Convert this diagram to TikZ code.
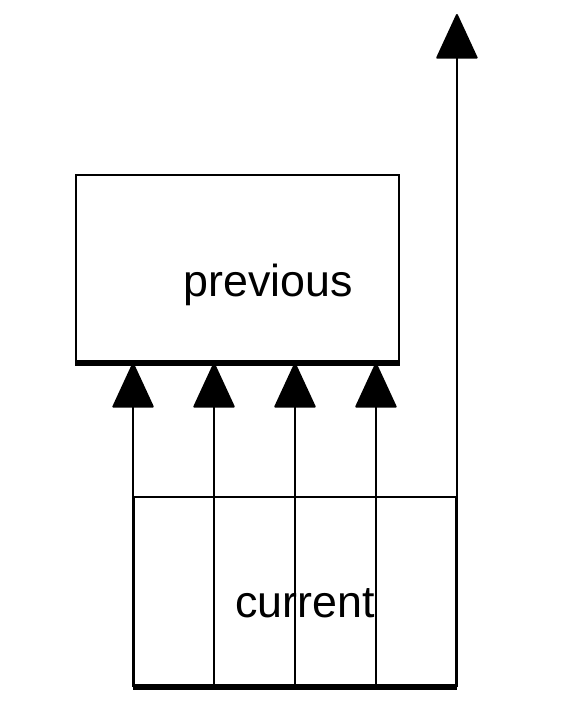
\documentclass[tikz,border=0pt]{standalone}
\usepackage{fontspec}
\setmainfont{Liberation Sans}
\usetikzlibrary{arrows.meta,calc}
\begin{document}
\begin{tikzpicture}[x=0.02cm,y=-0.02cm,
                    box/.style={draw,line width=1.1pt,minimum width=6.46cm,minimum height=3.74cm,inner sep=0},
                    base/.style={line width=3pt},
                    arr/.style={line width=1.1pt,-{Triangle[width=0.84cm,length=0.92cm,round]}},
                    word/.style={anchor=base west,inner sep=0,font=\fontsize{25.5}{30}\selectfont}]
                    \useasboundingbox (0,0) rectangle (566,718);

                    \node[box] (prev) at (237.5,268.5) {};
                    \node[box,minimum width=6.44cm,minimum height=3.78cm] (cur) at (295,591.5) {};
                    \draw[base] (prev.south west) -- (prev.south east);
                    \draw[base] (cur.south west) -- (cur.south east);

                    \foreach \i in {0,1,2,3}
                        \coordinate (c\i) at ($(cur.south west)!\i/4!(cur.south east)$);
                    \coordinate (top) at (455,14);

                    \foreach \i in {0,1,2,3}
                        \draw[arr] (c\i) -- (c\i |- prev.south);
                    \draw[arr] (cur.south east) -- (cur.south east |- top);

                    \node[word] (prevtext) at (183,296) {previous};
                    \node[word] (curtext) at (235,617) {current};
                \end{tikzpicture}
\end{document}
